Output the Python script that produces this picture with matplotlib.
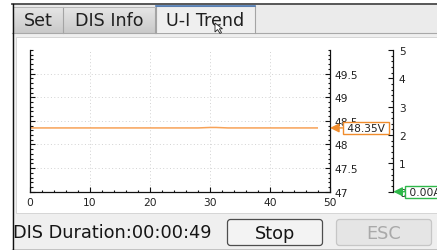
import matplotlib
matplotlib.use("Agg")
import matplotlib.pyplot as plt
import numpy as np
from matplotlib.patches import Rectangle, FancyBboxPatch, Polygon
from matplotlib.transforms import blended_transform_factory
from matplotlib.ticker import MultipleLocator, FixedLocator

plt.rcParams['font.family'] = ['DejaVu Sans']

# ---------------- data ----------------
time_s = [0, 1, 2, 3, 4, 5, 6, 7, 8, 9, 10, 11, 12, 13, 14, 15, 16, 17, 18, 19,
          20, 21, 22, 23, 24, 25, 26, 27, 28, 29, 30, 31, 32, 33, 34, 35, 36, 37,
          38, 39, 40, 41, 42, 43, 44, 45, 46, 47, 48]
voltage = [48.35, 48.35, 48.35, 48.35, 48.35, 48.35, 48.35, 48.35, 48.35, 48.35,
           48.35, 48.35, 48.35, 48.35, 48.35, 48.35, 48.35, 48.35, 48.35, 48.35,
           48.35, 48.35, 48.35, 48.35, 48.35, 48.35, 48.35, 48.35, 48.35, 48.355,
           48.36, 48.36, 48.355, 48.35, 48.35, 48.35, 48.35, 48.35, 48.35, 48.35,
           48.35, 48.35, 48.35, 48.35, 48.35, 48.35, 48.35, 48.35, 48.35]
voltage_now = 48.35
current_now = 0.00
x_ticks = [0, 10, 20, 30, 40, 50]
v_ticks = [47, 47.5, 48, 48.5, 49, 49.5]
v_tick_labels = ["47", "47.5", "48", "48.5", "49", "49.5"]
i_ticks = [0, 1, 2, 3, 4, 5]
tab_labels = ["Set", "DIS Info", "U-I Trend"]
status_text = "DIS Duration:00:00:49"
button_labels = ["Stop", "ESC"]

W, H = 437, 251
fig = plt.figure(figsize=(W / 100, H / 100), dpi=100)

# ---------------- GUI chrome (pixel coords) ----------------
bg = fig.add_axes([0, 0, 1, 1])
bg.set_xlim(0, W)
bg.set_ylim(H, 0)
bg.axis('off')
bg.set_zorder(0)

bg.add_patch(Rectangle((12, 5), W - 12, H - 5, fc='#efefef', ec='none'))
bg.add_patch(Rectangle((12, 6), W - 12, 27.5, fc='#ebebeb', ec='none'))

grad = np.linspace(0, 1, 50).reshape(-1, 1)
cmap_tab = matplotlib.colors.LinearSegmentedColormap.from_list('t', ['#e6e6e6', '#c9c9c9'])
for (x0, x1) in [(13, 63), (63, 155)]:
    bg.imshow(grad, extent=(x0, x1, 33.5, 8), aspect='auto', cmap=cmap_tab, zorder=1)
    bg.plot([x1, x1], [8, 33.5], color='#a4a4a4', lw=0.8, zorder=2)
bg.plot([13, 155], [8, 8], color='#b8b8b8', lw=0.7, zorder=2)
bg.plot([12, W], [33.5, 33.5], color='#a8a8a8', lw=0.8, zorder=2)
bg.add_patch(Rectangle((155.5, 6), 99.5, 28.2, fc='#efefef', ec='none', zorder=3))
bg.plot([155.5, 155.5, 255, 255], [34, 6.5, 6.5, 34], color='#a4a4a4', lw=0.8, zorder=3)
bg.plot([156, 254.5], [6.5, 6.5], color='#4a78b5', lw=1.2, zorder=4)

tab_x = [38, 109, 205]
for lbl, tx in zip(tab_labels, tab_x):
    bg.text(tx, 21.5, lbl, ha='center', va='center', fontsize=12.6, color='#202020', zorder=5)

# mouse cursor over the active tab
bg.add_patch(Polygon([(215, 24), (215, 33), (217.5, 30.5), (220, 34.5), (221.5, 33.5),
                      (219.3, 29.8), (222.5, 29.8)], closed=True,
                     fc='white', ec='#202020', lw=0.6, zorder=7))

bg.plot([12, W], [5, 5], color='#4a4a4a', lw=1.3, zorder=6)
bg.plot([12.5, 12.5], [5, H], color='#101010', lw=1.0, zorder=6)
bg.plot([12, W], [250.5, 250.5], color='#101010', lw=1.0, zorder=6)

bg.add_patch(Rectangle((16, 38), W - 16, 175.5, fc='white', ec='#d0d0d0', lw=0.6, zorder=2))

bg.text(13, 233.5, status_text, ha='left', va='center', fontsize=12.8, color='#151515', zorder=5)
bg.add_patch(FancyBboxPatch((227.5, 220.5), 95, 26, boxstyle='round,pad=0,rounding_size=3',
                            fc='#f3f3f3', ec='#4d4d4d', lw=0.9, zorder=4))
bg.text(275, 234, button_labels[0], ha='center', va='center', fontsize=12.8, color='#151515', zorder=5)
bg.add_patch(FancyBboxPatch((336.5, 220.5), 95, 26, boxstyle='round,pad=0,rounding_size=3',
                            fc='#e5e5e5', ec='#c6c6c6', lw=0.9, zorder=4))
bg.text(384, 234, button_labels[1], ha='center', va='center', fontsize=12.8, color='#a9a9a9', zorder=5)

# ---------------- chart ----------------
left, right, top, bottom = 30, 330, 51, 192.7
ax = fig.add_axes([left / W, (H - bottom) / H, (right - left) / W, (bottom - top) / H])
ax.set_zorder(2)
ax.patch.set_alpha(0)
ax2 = ax.twinx()
ax2.patch.set_alpha(0)

orange = '#f7a257'
orange_dark = '#f08c2c'
green = '#2fb84a'
tick_col = '#222222'
fs = 7.7

ax.plot(time_s, voltage, color=orange, lw=1.1, solid_capstyle='butt')
ax.set_xlim(0, 50)
ax.set_ylim(47, 50)
ax.xaxis.set_major_locator(FixedLocator(x_ticks))
ax.xaxis.set_minor_locator(MultipleLocator(2))
ax.yaxis.set_major_locator(FixedLocator(v_ticks))
ax.set_yticklabels(v_tick_labels)
ax.yaxis.set_minor_locator(MultipleLocator(0.1))
ax.tick_params(axis='y', which='both', direction='in', left=True, right=True,
               labelleft=False, labelright=True,
               labelsize=fs, labelcolor=tick_col, pad=3.5, width=0.8, color='#111111')
ax.tick_params(axis='x', which='both', direction='in', bottom=True, top=False,
               labelsize=fs, labelcolor=tick_col, pad=4, width=0.8, color='#111111')
ax.tick_params(which='major', length=3.5)
ax.tick_params(which='minor', length=1.8)
ax.spines['top'].set_visible(False)
for s in ['left', 'right', 'bottom']:
    ax.spines[s].set_linewidth(0.9)
    ax.spines[s].set_color('#111111')
for xv in x_ticks[1:-1]:
    ax.axvline(xv, color='#d2d2d2', lw=0.7, ls=(0, (1, 2.5)), zorder=0)
for yv in v_ticks[1:]:
    ax.axhline(yv, color='#d2d2d2', lw=0.7, ls=(0, (1, 2.5)), zorder=0)

# current axis
ax2.set_ylim(0, 5)
for s in ['left', 'top', 'bottom']:
    ax2.spines[s].set_visible(False)
pos2 = (393.3 - left) / (right - left)
ax2.spines['right'].set_position(('axes', pos2))
ax2.spines['right'].set_linewidth(0.9)
ax2.spines['right'].set_color('#111111')
ax2.yaxis.set_major_locator(FixedLocator(i_ticks))
ax2.yaxis.set_minor_locator(MultipleLocator(0.2))
ax2.tick_params(axis='y', which='both', direction='in', left=False, right=True,
                labelleft=False, labelright=True, labelsize=fs, labelcolor=tick_col,
                pad=4, width=0.8, color='#111111')
ax2.tick_params(which='major', length=3.5)
ax2.tick_params(which='minor', length=1.8)

# current value markers
tr1 = blended_transform_factory(ax.transAxes, ax.transData)
ax.annotate(f" {voltage_now:.2f}V ", xy=(1, voltage_now), xycoords=tr1,
            xytext=(14, 0), textcoords='offset pixels', ha='left', va='center',
            fontsize=fs, color=tick_col, annotation_clip=False,
            bbox=dict(boxstyle='square,pad=0.1', fc='white', ec=orange_dark, lw=1.0),
            arrowprops=dict(arrowstyle='-|>,head_length=0.7,head_width=0.35', color=orange_dark,
                            lw=1.0, shrinkA=0, shrinkB=0))

tr2 = blended_transform_factory(ax.transAxes, ax2.transData)
ax2.annotate(f" {current_now:.2f}A ", xy=(pos2, current_now), xycoords=tr2,
             xytext=(13, 0), textcoords='offset pixels', ha='left', va='center',
             fontsize=fs, color=tick_col, annotation_clip=False, zorder=10,
             bbox=dict(boxstyle='square,pad=0.1', fc='white', ec=green, lw=1.0),
             arrowprops=dict(arrowstyle='-|>,head_length=0.7,head_width=0.35', color=green,
                             lw=1.0, shrinkA=0, shrinkB=0))

fig.savefig("out.png", dpi=100)
